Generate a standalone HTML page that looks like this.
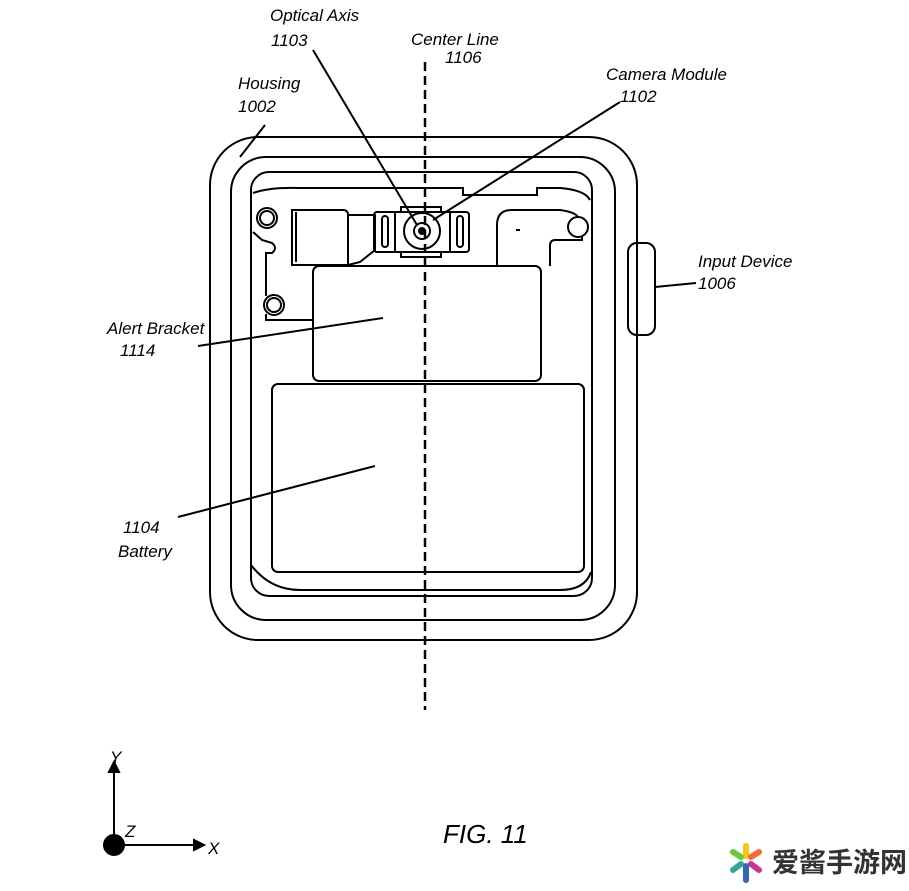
<!DOCTYPE html><html><head><style>body{margin:0;background:#fff}svg{display:block}text{font-family:"Liberation Sans",sans-serif;font-style:italic;font-size:17px;fill:#000}</style></head><body>
<svg width="909" height="891" viewBox="0 0 909 891" fill="none" stroke="#000" stroke-width="2">
<rect x="210" y="137" width="427" height="503" rx="48"/>
<rect x="231" y="157" width="384" height="463" rx="35"/>
<rect x="251" y="172" width="341" height="424" rx="18"/>
<path d="M253 193 Q270 187 300 188 L463 188 L463 195 L537 195 L537 188 L560 188 Q585 190 590 200"/>
<path d="M251 565 Q270 590 300 590 L560 590 Q585 590 591 572"/>
<rect x="272" y="384" width="312" height="188" rx="6"/>
<rect x="313" y="266" width="228" height="115" rx="6"/>
<circle cx="267" cy="218" r="10"/><circle cx="267" cy="218" r="7"/>
<circle cx="578" cy="227" r="10"/>
<circle cx="274" cy="305" r="10"/><circle cx="274" cy="305" r="7"/>
<path d="M253 232 L262 240 L272 243 Q278 248 272 253 L266 253 L266 296"/>
<path d="M266 314 L266 320 L274 320 L313 320"/>
<path d="M292 210 L343 210 Q348 210 348 215 L348 265 L292 265 Z"/>
<path d="M296 212 L296 262"/>
<path d="M348 215 L375 215 L375 250 L360 262 L348 265"/>
<rect x="374" y="212" width="95" height="40" rx="3"/>
<path d="M395 212 L395 252 M450 212 L450 252"/>
<rect x="382" y="216" width="6" height="31" rx="3"/><rect x="457" y="216" width="6" height="31" rx="3"/>
<path d="M401 212 L401 207 L441 207 L441 212 M401 252 L401 257 L441 257 L441 252"/>
<circle cx="422" cy="231" r="18"/><circle cx="422" cy="231" r="8"/><circle cx="422" cy="231" r="3" fill="#000"/>
<path d="M497 266 L497 225 Q497 210 512 210 L560 210 Q575 212 578 217 M582 237 L582 240 L555 240 Q550 240 550 246 L550 266"/>
<path d="M516 230 L520 230"/>
<rect x="628" y="243" width="27" height="92" rx="9"/>
<path d="M425 62 L425 710" stroke-dasharray="9 5" stroke-width="2.5"/>
<path d="M313 50 L417 225 M620 102 L433 220 M265 125 L240 157 M198 346 L383 318 M178 517 L375 466 M696 283 L655 287"/>
<path d="M114 845 L114 770 M114 845 L196 845"/>
<path d="M109 772 L114 762 L119 772 Z M194 840 L204 845 L194 850 Z" fill="#000"/>
<circle cx="114" cy="845" r="10" fill="#000"/>
<g stroke="none">
<text x="270" y="21">Optical Axis</text><text x="271" y="46">1103</text>
<text x="411" y="45">Center Line</text><text x="445" y="63">1106</text>
<text x="606" y="80">Camera Module</text><text x="620" y="102">1102</text>
<text x="238" y="89">Housing</text><text x="238" y="112">1002</text>
<text x="698" y="267">Input Device</text><text x="698" y="289">1006</text>
<text x="107" y="334">Alert Bracket</text><text x="120" y="356">1114</text>
<text x="123" y="533">1104</text><text x="118" y="557">Battery</text>
<text x="110" y="763">Y</text><text x="125" y="837">Z</text><text x="208" y="854">X</text>
<text x="443" y="843" style="font-size:26px">FIG. 11</text>
<text x="772" y="872" style="font-style:normal;font-weight:bold;font-size:27px;fill:#333;font-family:'Noto Sans CJK SC',sans-serif">爱酱手游网</text>
</g>
<g stroke-width="6" stroke-linecap="round">
<path d="M746 846 L746 856" stroke="#f5c518"/><path d="M733 852 L741 857" stroke="#6c3"/><path d="M759 852 L751 857" stroke="#f63"/>
<path d="M733 870 L741 864" stroke="#3a9"/><path d="M759 870 L751 864" stroke="#c39"/><path d="M746 866 L746 880" stroke="#36b"/>
</g>
</svg></body></html>
